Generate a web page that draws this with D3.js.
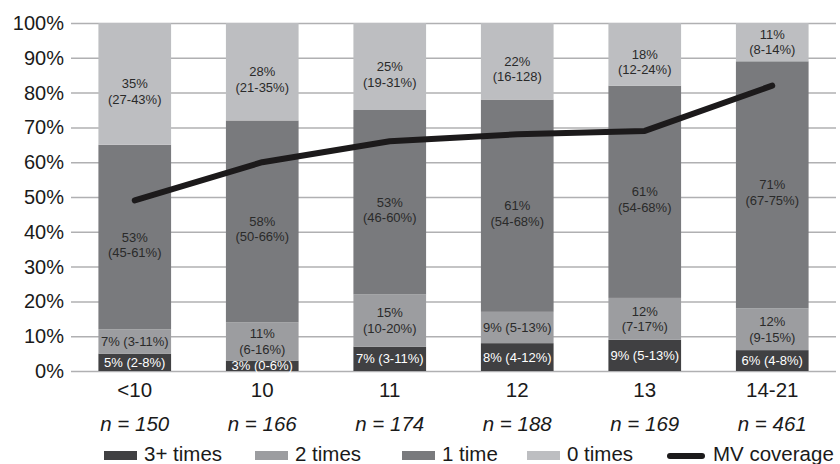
<!DOCTYPE html>
<html>
<head>
<meta charset="utf-8">
<script src="https://cdn.jsdelivr.net/npm/d3@7/dist/d3.min.js"></script>
<style>
  body { margin: 0; background: #fff; }
  svg { display: block; font-family: "Liberation Sans", Arial, sans-serif; }
  .grid line { stroke: #b0b0b2; stroke-width: 1.5; }
  .grid path { display: none; }
  .axis text { fill: #1a1a1a; }
</style>
</head>
<body>
<div id="chart"></div>
<script>
'use strict';

const categories = ['<10', '10', '11', '12', '13', '14-21'];
const sampleSizes = ['n = 150', 'n = 166', 'n = 174', 'n = 188', 'n = 169', 'n = 461'];
const seriesNames = ['3+ times', '2 times', '1 time', '0 times'];

// percent of children per category, bottom to top
const threePlus = [5, 3, 7, 8, 9, 6];
const twoTimes = [7, 11, 15, 9, 12, 12];
const oneTime = [53, 58, 53, 61, 61, 71];
const zeroTimes = [35, 28, 25, 22, 18, 11];

// segment labels ("\n" = line break)
const threePlusLabels = ['5% (2-8%)', '3% (0-6%)', '7% (3-11%)', '8% (4-12%)', '9% (5-13%)', '6% (4-8%)'];
const twoTimesLabels = ['7% (3-11%)', '11%\n(6-16%)', '15%\n(10-20%)', '9% (5-13%)', '12%\n(7-17%)', '12%\n(9-15%)'];
const oneTimeLabels = ['53%\n(45-61%)', '58%\n(50-66%)', '53%\n(46-60%)', '61%\n(54-68%)', '61%\n(54-68%)', '71%\n(67-75%)'];
const zeroTimesLabels = ['35%\n(27-43%)', '28%\n(21-35%)', '25%\n(19-31%)', '22%\n(16-128)', '18%\n(12-24%)', '11%\n(8-14%)'];

const mvCoverage = [49, 60, 66, 68, 69, 82];
const yTicks = [0, 10, 20, 30, 40, 50, 60, 70, 80, 90, 100];

const colors = ['#404042', '#9c9da0', '#797a7d', '#bdbec1'];
const labelColors = ['#ffffff', '#2a2a2a', '#2a2a2a', '#2a2a2a'];

const size = { width: 840, height: 464 };
const margin = { top: 23, right: 4, bottom: 93, left: 71 };
const width = size.width - margin.left - margin.right;
const height = size.height - margin.top - margin.bottom;

const rows = categories.map((c, i) => ({
  cat: c,
  '3+ times': threePlus[i],
  '2 times': twoTimes[i],
  '1 time': oneTime[i],
  '0 times': zeroTimes[i]
}));
const labelSets = [threePlusLabels, twoTimesLabels, oneTimeLabels, zeroTimesLabels];

const xScale = d3.scaleBand()
  .domain(categories)
  .range([0, width])
  .paddingInner(0.43)
  .paddingOuter(0.215);

const yScale = d3.scaleLinear().domain([0, 100]).range([height, 0]);

const svg = d3.select('#chart').append('svg')
  .attr('width', size.width)
  .attr('height', size.height);

const graph = svg.append('g')
  .attr('transform', 'translate(' + margin.left + ',' + margin.top + ')');

// horizontal grid
graph.append('g')
  .attr('class', 'grid')
  .call(d3.axisLeft(yScale).tickValues(yTicks).tickSize(-width).tickFormat(''));

// y axis labels
const yAxis = graph.append('g')
  .attr('class', 'axis')
  .call(d3.axisLeft(yScale).tickValues(yTicks).tickSize(0).tickPadding(7).tickFormat(d => d + '%'));
yAxis.select('.domain').remove();
yAxis.selectAll('text').style('font-size', '20px');

// stacked bars
const stacked = d3.stack().keys(seriesNames)(rows);

const layers = graph.selectAll('.layer')
  .data(stacked)
  .enter().append('g')
  .attr('class', 'layer')
  .attr('fill', (d, i) => colors[i]);

layers.selectAll('rect')
  .data(d => d)
  .enter().append('rect')
  .attr('x', d => xScale(d.data.cat))
  .attr('width', xScale.bandwidth())
  .attr('y', d => yScale(d[1]))
  .attr('height', d => yScale(d[0]) - yScale(d[1]));

// segment labels
const lineH = 15.5;
stacked.forEach((layer, li) => {
  layer.forEach((seg, ci) => {
    const lines = labelSets[li][ci].split('\n');
    const mid = (yScale(seg[0]) + yScale(seg[1])) / 2;
    const big = (seg[1] - seg[0]) > 16;
    // tall segments: first line at the middle; small ones: block centred
    const first = big ? mid : mid - (lines.length - 1) * lineH / 2;
    const t = graph.append('text')
      .attr('text-anchor', 'middle')
      .attr('fill', labelColors[li])
      .style('font-size', '13px');
    lines.forEach((s, k) => {
      t.append('tspan')
        .attr('x', xScale(seg.data.cat) + xScale.bandwidth() / 2)
        .attr('y', first + k * lineH)
        .attr('dy', '0.35em')
        .text(s);
    });
  });
});

// MV coverage line
const line = d3.line()
  .x((d, i) => xScale(categories[i]) + xScale.bandwidth() / 2)
  .y(d => yScale(d));

graph.append('path')
  .datum(mvCoverage)
  .attr('fill', 'none')
  .attr('stroke', '#1c1a1b')
  .attr('stroke-width', 6)
  .attr('stroke-linecap', 'round')
  .attr('stroke-linejoin', 'round')
  .attr('d', line);

// category labels and sample sizes
const xAxis = graph.append('g')
  .attr('class', 'axis')
  .attr('transform', 'translate(0,' + height + ')')
  .call(d3.axisBottom(xScale).tickSize(0).tickPadding(0));
xAxis.select('.domain').remove();
xAxis.selectAll('text')
  .attr('y', 26)
  .attr('dy', 0)
  .style('font-size', '20.5px');

graph.selectAll('.nlabel')
  .data(sampleSizes)
  .enter().append('text')
  .attr('class', 'nlabel')
  .attr('text-anchor', 'middle')
  .attr('x', (d, i) => xScale(categories[i]) + xScale.bandwidth() / 2)
  .attr('y', height + 60)
  .attr('fill', '#1a1a1a')
  .style('font-size', '20.5px')
  .style('font-style', 'italic')
  .text(d => d);

// legend
const legendX = [104, 255, 402, 527];
const legend = svg.append('g').attr('class', 'legend');
seriesNames.forEach((name, i) => {
  legend.append('rect')
    .attr('x', legendX[i])
    .attr('y', 451)
    .attr('width', 33)
    .attr('height', 9)
    .attr('fill', colors[i]);
  legend.append('text')
    .attr('x', legendX[i] + 40)
    .attr('y', 461)
    .attr('fill', '#1a1a1a')
    .style('font-size', '20.5px')
    .text(name);
});
legend.append('line')
  .attr('x1', 670).attr('x2', 702)
  .attr('y1', 456).attr('y2', 456)
  .attr('stroke', '#1c1a1b')
  .attr('stroke-width', 6)
  .attr('stroke-linecap', 'round');
legend.append('text')
  .attr('x', 713)
  .attr('y', 461)
  .attr('fill', '#1a1a1a')
  .style('font-size', '20.5px')
  .text('MV coverage');
</script>
</body>
</html>
